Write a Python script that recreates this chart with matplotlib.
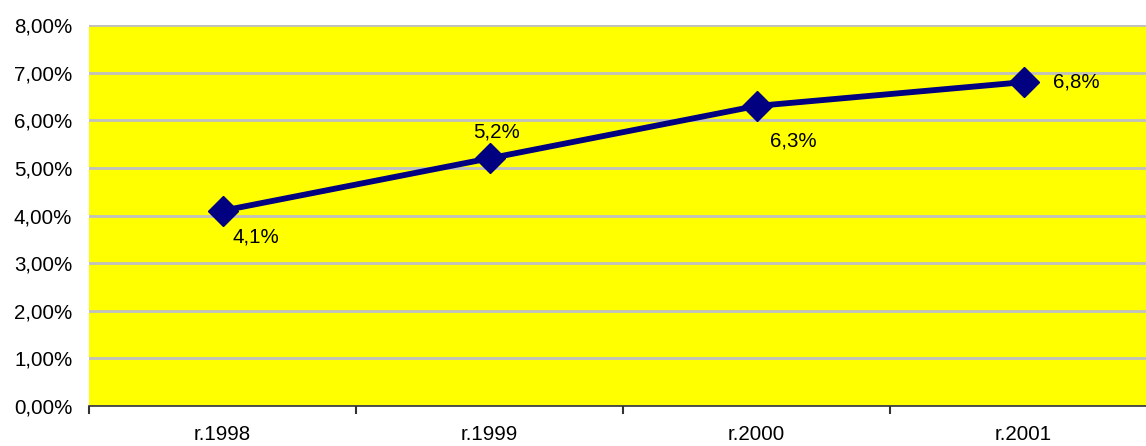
import matplotlib.pyplot as plt
from matplotlib.ticker import FuncFormatter

years = ["r.1998", "r.1999", "r.2000", "r.2001"]
values = [4.1, 5.2, 6.3, 6.8]
labels = ["4,1%", "5,2%", "6,3%", "6,8%"]
# offsets of the value labels, in points (left edge, vertical centre)
label_offsets = [(7, -19), (-11.5, 19), (10, -25), (21.5, 0)]

plt.rcParams['font.family'] = ['Liberation Sans', 'DejaVu Sans']

fig = plt.figure(figsize=(11.46, 4.46), dpi=100)
ax = fig.add_axes([89 / 1146, 1 - 406 / 446, 1 - 89 / 1146, (406 - 25) / 446])
ax.set_facecolor('#ffff00')

x = list(range(len(years)))
ax.plot(x, values, color='#000080', lw=4.2, marker='D', ms=15, zorder=3)

for i, (v, lab) in enumerate(zip(values, labels)):
    dx, dy = label_offsets[i]
    ax.annotate(lab, (i, v), xytext=(dx, dy), textcoords='offset points',
                ha='left', va='center', fontsize=14.8)

ax.set_ylim(0, 8)
ax.set_yticks(range(0, 9))
ax.yaxis.set_major_formatter(FuncFormatter(lambda v, p: f"{v:.2f}%".replace('.', ',')))
ax.set_xticks(x)
ax.set_xticklabels(years)
ax.set_xticks([-0.5, 0.5, 1.5, 2.5], minor=True)
# category width in the reference is about 267 px, the plot is cut at the right edge
ax.set_xlim(-0.5, (1146 - 89) / 267 - 0.5)
ax.tick_params(axis='x', which='major', length=0, pad=14, labelsize=14.8)
ax.tick_params(axis='x', which='minor', length=6, width=1.5, color='#333333')
ax.tick_params(axis='y', length=0, pad=12, labelsize=14.8)

ax.grid(axis='y', color='#c0c0c0', lw=2)
ax.set_axisbelow(True)
for s in ['top', 'right', 'left']:
    ax.spines[s].set_visible(False)
ax.spines['bottom'].set_color('#333333')
ax.spines['bottom'].set_linewidth(1.2)

fig.savefig('out.png', dpi=100)
